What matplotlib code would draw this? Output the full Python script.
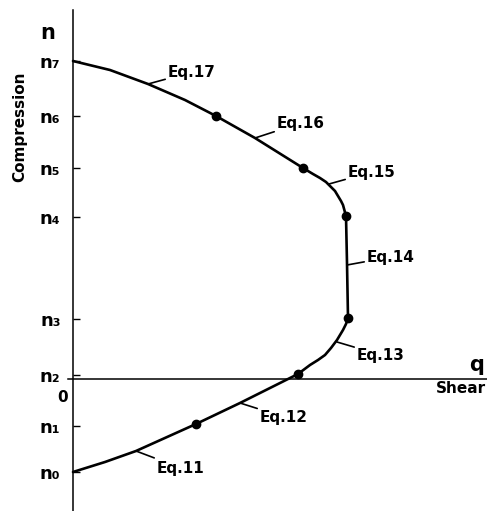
import matplotlib
matplotlib.use("Agg")
import matplotlib.pyplot as plt

# tick levels on the compression axis (arbitrary units)
tick_names = ["n₀", "n₁", "n₂", "n₃", "n₄", "n₅", "n₆", "n₇"]
tick_vals = [-0.93, -0.47, 0.04, 0.60, 1.62, 2.11, 2.63, 3.18]

# interaction curve (shear q, compression n)
curve_q = [0.00, 0.37, 0.75, 1.12, 1.43, 1.82, 2.30, 2.40, 2.47, 2.53, 2.57, 2.62, 2.65, 2.68, 2.70, 2.73,
           2.74, 2.75, 2.73, 2.70, 2.64, 2.58, 2.52, 2.45, 2.37, 2.25, 1.97, 1.67, 1.23, 0.63, 0.32, 0.00]
curve_n = [3.18, 3.09, 2.95, 2.79, 2.63, 2.41, 2.11, 2.05, 2.01, 1.97, 1.93, 1.88, 1.83, 1.78, 1.74, 1.63,
           1.16, 0.61, 0.55, 0.49, 0.39, 0.31, 0.24, 0.19, 0.14, 0.05, -0.09, -0.24, -0.45, -0.72, -0.83, -0.93]

# junction points between equations
dot_q = [1.23, 2.25, 2.75, 2.73, 2.30, 1.43]
dot_n = [-0.45, 0.05, 0.61, 1.63, 2.11, 2.63]

# equation labels: name, point on curve, label position
eq_names = ["Eq.17", "Eq.16", "Eq.15", "Eq.14", "Eq.13", "Eq.12", "Eq.11"]
eq_pt_q = [0.75, 1.82, 2.56, 2.74, 2.64, 1.67, 0.63]
eq_pt_n = [2.95, 2.41, 1.95, 1.14, 0.37, -0.24, -0.72]
eq_lab_q = [0.95, 2.04, 2.75, 2.94, 2.84, 1.87, 0.84]
eq_lab_n = [3.07, 2.56, 2.07, 1.22, 0.24, -0.38, -0.89]

fig = plt.figure(figsize=(4.87, 5.11), dpi=100)
ax = fig.add_axes([0, 0, 1, 1])
ax.set_xlim(-0.73, 4.14)
ax.set_ylim(-1.32, 3.79)
ax.patch.set_alpha(0)

for s in ["top", "right"]:
    ax.spines[s].set_visible(False)
ax.spines["left"].set_position(("data", 0))
ax.spines["bottom"].set_position(("data", 0))
ax.spines["left"].set_bounds(-1.32, 3.69)
ax.spines["bottom"].set_bounds(-0.05, 4.14)
ax.spines["left"].set_linewidth(1.1)
ax.spines["bottom"].set_linewidth(1.1)

ax.set_xticks([])
ax.set_yticks(tick_vals)
ax.set_yticklabels(tick_names, fontsize=13, fontweight="bold")
ax.tick_params(axis="y", direction="in", length=5, width=1, pad=9)

ax.plot(curve_q, curve_n, color="black", lw=1.9, solid_capstyle="round")
ax.plot(dot_q, dot_n, "o", color="black", ms=6)

for name, pq, pn, lq, ln in zip(eq_names, eq_pt_q, eq_pt_n, eq_lab_q, eq_lab_n):
    ax.annotate(name, xy=(pq, pn), xytext=(lq, ln), fontsize=11, fontweight="bold",
                ha="left", va="center",
                arrowprops=dict(arrowstyle="-", lw=1.2, color="black",
                                shrinkA=0, shrinkB=0))

ax.text(-0.10, -0.18, "0", fontsize=11, fontweight="bold", ha="center", va="center")
ax.text(-0.25, 3.46, "n", fontsize=15, fontweight="bold", ha="center", va="center")
ax.text(-0.53, 2.52, "Compression", fontsize=11, fontweight="bold", rotation=90,
        ha="center", va="center")
ax.text(4.04, 0.14, "q", fontsize=15, fontweight="bold", ha="center", va="center")
ax.text(4.13, -0.09, "Shear", fontsize=11, fontweight="bold", ha="right", va="center")

fig.savefig("out.png", dpi=100, facecolor="white")
